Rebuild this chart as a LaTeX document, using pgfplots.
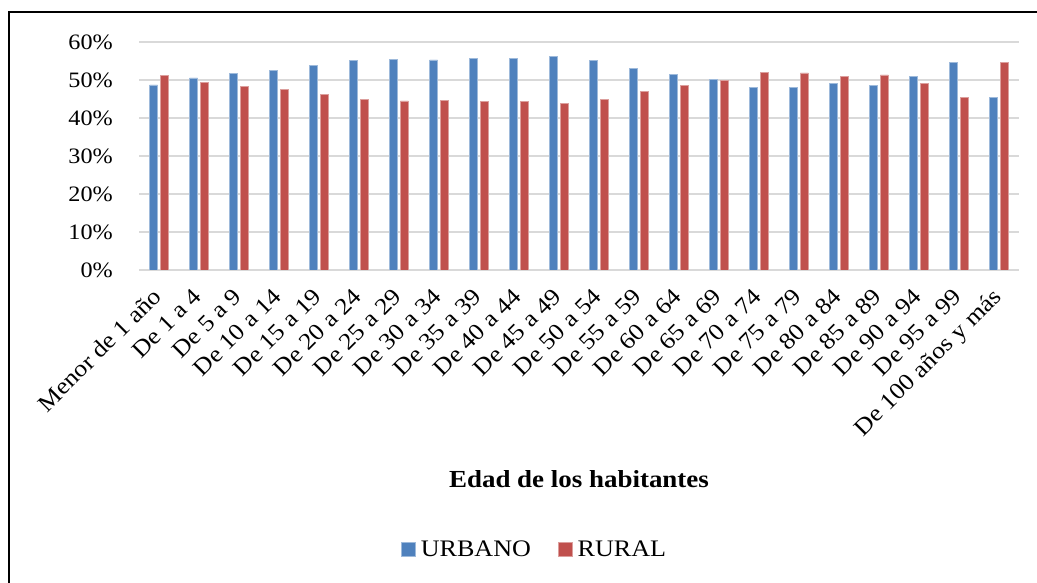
\documentclass[border=0pt]{standalone}
\usepackage{pgfplots}
\pgfplotsset{compat=1.18}
\usepackage{fontspec}
\setmainfont{Liberation Serif}[FakeStretch=1.1]
\definecolor{urb}{RGB}{79,129,189}
\definecolor{rur}{RGB}{192,80,77}
\definecolor{gridc}{RGB}{217,217,217}
\begin{document}
\begin{tikzpicture}
\useasboundingbox (0bp,0bp) rectangle (1037bp,583bp);
\draw[line width=1.6bp, black] (9bp,-5bp) -- (9bp,571bp) -- (1045bp,571bp);
\begin{axis}[
  at={(139bp,313bp)}, anchor=south west,
  scale only axis, width=880bp, height=228bp,
  xmin=-0.5, xmax=21.5, ymin=0, ymax=60,
  enlargelimits=false,
  ybar=2.6bp, bar width=8bp,
  axis line style={draw=none},
  major tick length=0pt,
  ymajorgrids, major grid style={draw=gridc, line width=1.8bp},
  ytick={0,10,20,30,40,50,60},
  yticklabels={0\%,10\%,20\%,30\%,40\%,50\%,60\%},
  yticklabel style={anchor=east, inner sep=0pt, xshift=-26bp, font=\fontsize{22bp}{26bp}\selectfont},
  xtick={0,...,21},
  xticklabels={Menor de 1 año, De 1 a 4, De 5 a 9, De 10 a 14, De 15 a 19, De 20 a 24, De 25 a 29, De 30 a 34, De 35 a 39, De 40 a 44, De 45 a 49, De 50 a 54, De 55 a 59, De 60 a 64, De 65 a 69, De 70 a 74, De 75 a 79, De 80 a 84, De 85 a 89, De 90 a 94, De 95 a 99, De 100 años y más},
  xticklabel style={yshift=-26bp, xshift=2bp, rotate=45, anchor=east, inner sep=0pt, text height=0.7em, text depth=0.2em, font=\fontsize{23.5bp}{28bp}\selectfont},
  xlabel={Edad de los habitantes},
  xlabel style={at={(axis description cs:0.5,-0.956)}, anchor=base, font=\fontsize{24.5bp}{29bp}\selectfont\bfseries},
  legend columns=2,
  legend style={draw=none, fill=none, inner sep=0pt, nodes={inner sep=0pt}, column sep=5bp,
    /tikz/every even column/.append style={column sep=27bp},
    at={(axis description cs:0.2977,-1.2259)}, anchor=west,
    font=\fontsize{23.7bp}{28bp}\selectfont},
  legend image code/.code={\fill[#1] (0bp,-7bp) rectangle (14bp,7bp);},
]
\addplot[fill=urb, draw=urb!55!white, line width=0.7bp] coordinates {
(0,48.7) (1,50.55) (2,51.8) (3,52.55) (4,53.9) (5,55.2) (6,55.5) (7,55.3) (8,55.6) (9,55.75) (10,56.1) (11,55.2) (12,53.1) (13,51.45) (14,50.1) (15,48.05) (16,48.15) (17,49.0) (18,48.65) (19,50.85) (20,54.65) (21,45.35)};
\addplot[fill=rur, draw=rur!55!white, line width=0.7bp] coordinates {
(0,51.3) (1,49.45) (2,48.2) (3,47.45) (4,46.1) (5,44.8) (6,44.5) (7,44.7) (8,44.4) (9,44.25) (10,43.9) (11,44.8) (12,46.9) (13,48.55) (14,49.9) (15,51.95) (16,51.85) (17,51.0) (18,51.35) (19,49.15) (20,45.35) (21,54.65)};
\legend{URBANO, RURAL}
\end{axis}
\end{tikzpicture}
\end{document}
